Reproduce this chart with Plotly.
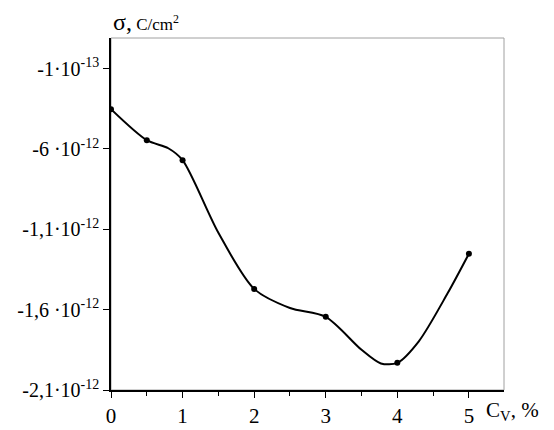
import plotly.graph_objects as go

# measured points
cv = [0, 0.5, 1, 2, 3, 4, 5]
sigma = [-0.353e-12, -0.546e-12, -0.670e-12, -1.471e-12, -1.645e-12, -1.931e-12, -1.252e-12]

# smooth curve as drawn
curve_x = [0, 0.5, 0.8, 1, 1.5, 2, 2.5, 3, 3.5, 3.77, 4, 4.3, 4.7, 5]
curve_y = [-0.353e-12, -0.546e-12, -0.596e-12, -0.670e-12, -1.122e-12, -1.471e-12,
           -1.59e-12, -1.645e-12, -1.85e-12, -1.935e-12, -1.931e-12, -1.797e-12,
           -1.50e-12, -1.252e-12]

ytick_vals = [-0.1e-12, -0.6e-12, -1.1e-12, -1.6e-12, -2.1e-12]
ytick_text = ["-1·10<sup>-13</sup>", "-6 ·10<sup>-12</sup>", "-1,1·10<sup>-12</sup>",
              "-1,6 ·10<sup>-12</sup>", "-2,1·10<sup>-12</sup>"]
xtick_vals = [0, 1, 2, 3, 4, 5]

font = "Liberation Serif, Times New Roman, serif"

fig = go.Figure()
fig.add_trace(go.Scatter(x=curve_x, y=curve_y, mode="lines",
                         line=dict(color="black", width=2, shape="spline", smoothing=0.8),
                         hoverinfo="skip", showlegend=False))
fig.add_trace(go.Scatter(x=cv, y=sigma, mode="markers",
                         marker=dict(color="black", size=6), showlegend=False))

fig.add_shape(type="rect", xref="paper", yref="paper", x0=0, y0=0, x1=1, y1=1,
              line=dict(color="#a0a0a0", width=1), layer="below")

fig.update_layout(
    width=554, height=430,
    margin=dict(l=111, r=50, t=38, b=40, autoexpand=False),
    paper_bgcolor="white", plot_bgcolor="white",
    font=dict(family=font, color="black", size=20),
    xaxis=dict(range=[0, 5.49], tickvals=xtick_vals, ticks="outside", ticklen=6,
               tickcolor="black", showgrid=False, zeroline=False, showline=True,
               linecolor="black", linewidth=1.5, tickfont=dict(size=21), automargin=False,
               minor=dict(tickvals=[0.5, 1.5, 2.5, 3.5, 4.5], ticks="outside", ticklen=4,
                          tickcolor="black")),
    yaxis=dict(range=[-2.1e-12, 0.09e-12], tickvals=ytick_vals, ticktext=ytick_text,
               ticks="outside", ticklen=6, tickcolor="black", showgrid=False,
               zeroline=False, showline=True, linecolor="black", linewidth=1.5,
               tickfont=dict(size=20), automargin=False),
    annotations=[
        dict(xref="paper", yref="paper", x=0, y=1, xanchor="left", yanchor="bottom",
             yshift=1, showarrow=False,
             text="<span style='font-size:24px'>σ,</span> C/cm<sup>2</sup>",
             font=dict(size=17)),
        dict(xref="paper", yref="paper", x=1, y=0, xanchor="right", yanchor="top",
             xshift=37, yshift=-6, showarrow=False,
             text="C<sub>V</sub>, %", font=dict(size=21)),
    ],
)

fig.write_html("out.html")
